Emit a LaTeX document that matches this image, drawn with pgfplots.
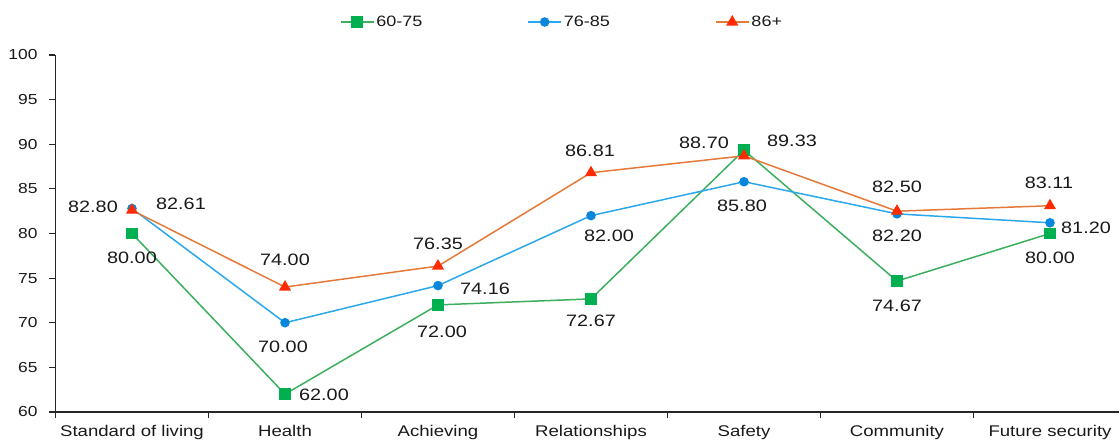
\documentclass[border=0pt]{standalone}
\usepackage{fontspec}
\setmainfont{Liberation Sans}[FakeStretch=1.2]
\usepackage{pgfplots}
\usepackage{pgfplotstable}
\pgfplotsset{compat=1.18}

\definecolor{gline}{HTML}{3CAE5E}
\definecolor{gmark}{HTML}{00B050}
\definecolor{bline}{HTML}{2BA8EC}
\definecolor{bmark}{HTML}{0A86DA}
\definecolor{oline}{HTML}{E57A38}
\definecolor{omark}{HTML}{FF2A00}

\pgfplotstableread[col sep=comma]{
x,y,dx,dy
0,80.00,0,-24
1,62.00,39,-1
2,72.00,4,-27
3,72.67,0,-22
4,89.33,48,9
5,74.67,0,-25
6,80.00,0,-24
}\tabgreen

\pgfplotstableread[col sep=comma]{
x,y,dx,dy
0,82.80,-39,2
1,70.00,-2,-24
2,74.16,47,-3
3,82.00,18,-20
4,85.80,-2,-24
5,82.20,0,-22
6,81.20,36,-5
}\tabblue

\pgfplotstableread[col sep=comma]{
x,y,dx,dy
0,82.61,49,6
1,74.00,0,27
2,76.35,0,22
3,86.81,-1,22
4,88.70,-40,13
5,82.50,0,24
6,83.11,-1,23
}\taborange

\def\lbdx{0}
\def\lbdy{0}

\begin{document}
\begin{tikzpicture}
\begin{axis}[
  scale only axis, width=1063.35pt, height=357pt,
  at={(0,0)}, anchor=south west,
  xmin=-0.5, xmax=6.45, ymin=60, ymax=100,
  axis lines=left,
  axis line style={-, line width=1.6pt, color=black!85},
  xtick={0,...,6},
  xticklabels={Standard of living, Health, Achieving, Relationships, Safety, Community, Future security},
  major x tick style={draw=none},
  minor xtick={-0.5,0.5,1.5,2.5,3.5,4.5,5.5},
  ytick={60,65,...,100},
  tick align=outside,
  tick style={line width=1.2pt, color=black!85},
  major tick length=6pt, minor tick length=6pt,
  /pgf/number format/assume math mode=true,
  yticklabel style={font=\fontsize{14.5}{16}\selectfont, color=black!90, xshift=-8.5pt},
  xticklabel style={font=\fontsize{15.5}{18}\selectfont, color=black!90, yshift=-4pt},
  clip=false,
  legend columns=3,
  legend style={draw=none, fill=none, at={(axis description cs:0.4763,1.0924)}, anchor=center,
    font=\fontsize{15}{17}\selectfont, text=black!90,
    nodes={inner sep=2pt},
    /tikz/every even column/.append style={column sep=103pt}},
  legend image code/.code={\draw[#1, mark repeat=2, mark phase=2] plot coordinates {(0pt,0pt) (16.5pt,0pt) (33pt,0pt)};},
  nodes near coords={\pgfmathprintnumber[fixed, fixed zerofill, precision=2]{\pgfplotspointmeta}},
  point meta=explicit,
  visualization depends on={\thisrow{dx} \as \lbdx},
  visualization depends on={\thisrow{dy} \as \lbdy},
  nodes near coords style={anchor=center, inner sep=0pt, xshift=\lbdx pt, yshift=\lbdy pt,
    font=\fontsize{16.5}{19}\selectfont, text=black!90},
]
\addplot[color=gline, line width=1.5pt, mark=square*, mark size=5pt,
  mark options={fill=gmark, draw=gmark}]
  table[x=x, y=y, meta=y] {\tabgreen};
\addlegendentry{60-75}
\addplot[color=bline, line width=1.5pt, mark=*, mark size=4pt,
  mark options={fill=bmark, draw=bmark}]
  table[x=x, y=y, meta=y] {\tabblue};
\addlegendentry{76-85}
\addplot[color=oline, line width=1.5pt, mark=triangle*, mark size=5.5pt,
  mark options={fill=omark, draw=omark}]
  table[x=x, y=y, meta=y] {\taborange};
\addlegendentry{86+}
\end{axis}
\pgfresetboundingbox
\path[use as bounding box] (-55.5pt,-29pt) rectangle (1064.5pt,412pt);
\end{tikzpicture}
\end{document}
